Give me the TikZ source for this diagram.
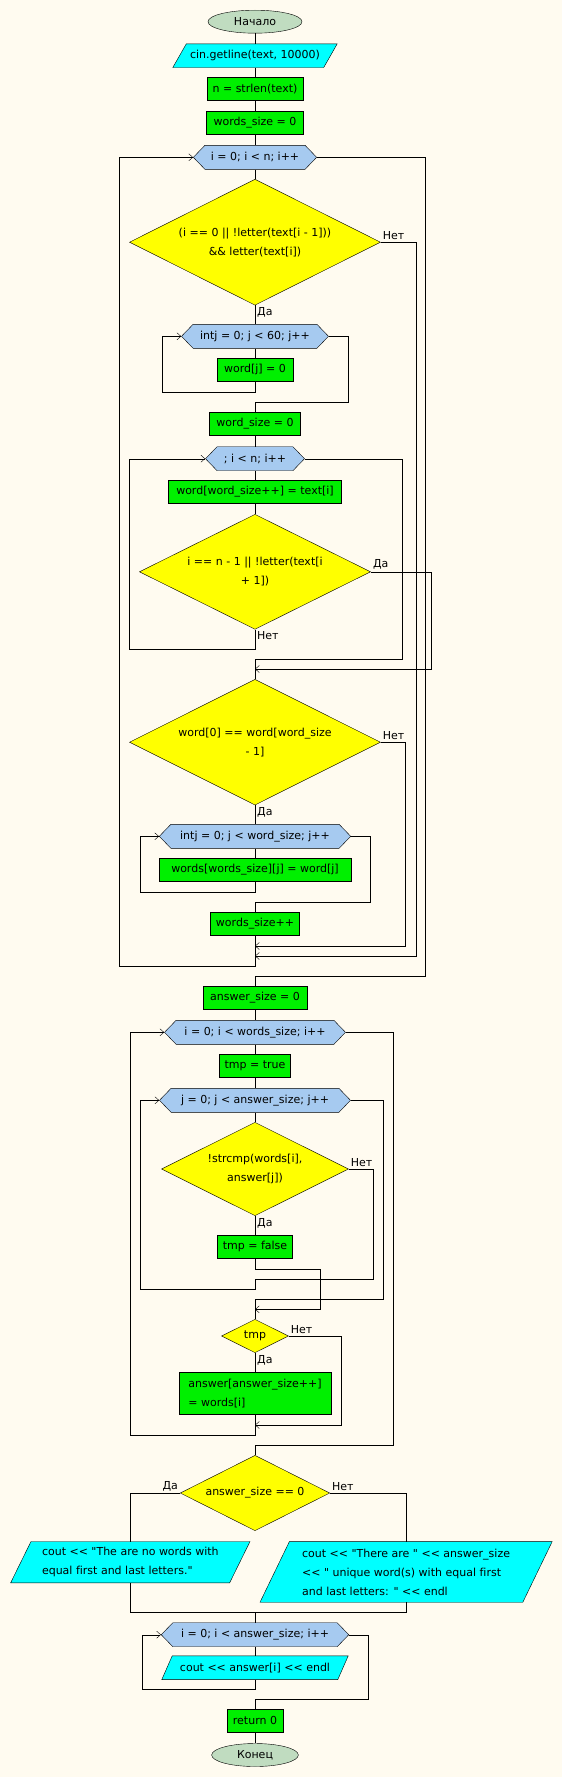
\documentclass[tikz,border=0pt]{standalone}
\usepackage{fontspec}
\setmainfont{DejaVu Sans}[Ligatures={TeXOff,NoCommon}]
\usetikzlibrary{arrows.meta, shapes.geometric, shapes.symbols}
\definecolor{paper}{HTML}{FFFBF0}
\definecolor{termfill}{HTML}{C0DCC0}
\definecolor{procfill}{HTML}{00F000}
\definecolor{loopfill}{HTML}{A6CAF0}
\definecolor{iofill}{HTML}{00FFFF}
\definecolor{condfill}{HTML}{FFFF00}
\pgfdeclarelayer{paperlayer}
\pgfdeclarelayer{iolayer}
\pgfsetlayers{paperlayer,iolayer,main}

\begin{document}
\begin{tikzpicture}[x=1pt, y=-1pt, line width=1pt,
    font=\fontsize{11}{19}\selectfont,
    term/.style={ellipse, draw, fill=termfill, inner sep=0pt, minimum height=23pt},
    proc/.style={rectangle, draw, fill=procfill, inner sep=0pt, minimum height=23pt},
    io/.style={rectangle, inner sep=0pt, align=left},
    loopbox/.style={signal, signal to=east and west, signal pointer angle=92,
      draw, fill=loopfill, inner sep=0pt, minimum height=24pt},
    cond/.style={diamond, aspect=2, draw, fill=condfill, inner sep=0pt, align=center},
    lbl/.style={inner sep=2pt},
    closeloop/.style={-{Straight Barb[length=4pt, width=7pt]}}]
    \useasboundingbox (0,0) rectangle (562,1777);
    \begin{pgfonlayer}{paperlayer}
        \fill[paper] (0,0) rectangle (562,1777);
    \end{pgfonlayer}

    % first part: collect the words
    \node[term, minimum width=94pt] (start) at (255,21.7) {Начало};
    \node[io, minimum width=164pt, minimum height=23.3pt] (getline) at (255,55.7) {cin.getline(text, 10000)};
    \node[proc, minimum width=96.4pt] (strlen) at (255,88.8) {n = strlen(text)};
    \node[proc, minimum width=97pt] (wsz0) at (255,122.8) {words\_size = 0};
    \node[loopbox, minimum width=123.3pt] (loopI) at (255,157.3) {i = 0; i < n; i++};
    \node[cond, minimum width=251pt, minimum height=126pt] (cond1) at (255,242.2)
        {(i == 0 || !letter(text[i - 1]))\\\&\& letter(text[i])};
    \node[loopbox, minimum width=147pt] (loopJ1) at (255,336.3) {intj = 0; j < 60; j++};
    \node[proc, minimum width=76.3pt] (wordj) at (255,369.8) {word[j] = 0};
    \node[proc, minimum width=91pt] (wsz) at (255,423.8) {word\_size = 0};
    \node[loopbox, minimum width=99pt] (loopI2) at (255,458.7) {; i < n; i++};
    \node[proc, minimum width=172.7pt] (wordcp) at (255,492) {word[word\_size++] = text[i]};
    \node[cond, minimum width=231.2pt, minimum height=115pt] (cond2) at (255,571.8)
        {i == n - 1 || !letter(text[i\\+ 1])};
    \node[cond, minimum width=251pt, minimum height=125.7pt] (cond3) at (255,742.2)
        {word[0] == word[word\_size\\- 1]};
    \node[loopbox, minimum width=191.4pt] (loopJ2) at (255,836.3) {intj = 0; j < word\_size; j++};
    \node[proc, minimum width=192pt] (wordsj) at (255,870) {words[words\_size][j] = word[j]};
    \node[proc, minimum width=89pt] (wsinc) at (255,923.8) {words\_size++};

    % second part: keep the unique words
    \node[proc, minimum width=104.3pt] (ans0) at (255,998) {answer\_size = 0};
    \node[loopbox, minimum width=181pt] (loopK) at (255,1032.3) {i = 0; i < words\_size; i++};
    \node[proc, minimum width=71pt] (tmpT) at (255,1065.8) {tmp = true};
    \node[loopbox, minimum width=191pt] (loopL) at (255,1100.3) {j = 0; j < answer\_size; j++};
    \node[cond, minimum width=187pt, minimum height=93.4pt] (cond4) at (255,1169)
        {!strcmp(words[i],\\answer[j])};
    \node[proc, minimum width=75.3pt] (tmpF) at (255,1246.8) {tmp = false};
    \node[cond, minimum width=67pt, minimum height=33.4pt] (cond5) at (255,1336) {tmp};
    \node[proc, minimum width=152.3pt, minimum height=42pt, align=left] (ansadd) at (255,1393.3)
        {answer[answer\_size++]\\= words[i]};

    % output
    \node[cond, minimum width=149.5pt, minimum height=75.4pt] (cond6) at (255,1493) {answer\_size == 0};
    \node[io, minimum width=239pt, minimum height=41pt] (outNo) at (130.3,1562.2)
        {cout << "The are no words with\\equal first and last letters."};
    \node[io, minimum width=291.8pt, minimum height=60.3pt] (outYes) at (406.1,1571.9)
        {cout << "There are " << answer\_size\\<< " unique word(s) with equal first\\and last letters: " << endl};
    \node[loopbox, minimum width=187.5pt] (loopP) at (255,1634.7) {i = 0; i < answer\_size; i++};
    \node[io, minimum width=186pt, minimum height=23.3pt] (outAns) at (255,1667.7) {cout << answer[i] << endl};
    \node[proc, minimum width=55.6pt] (ret) at (255,1720.8) {return 0};
    \node[term, minimum width=86.7pt] (stop) at (255,1755) {Конец};

    \begin{pgfonlayer}{iolayer}
        \foreach \n/\s in {getline/13.5, outNo/20.4, outYes/29.4, outAns/10.4}
            \draw[fill=iofill] ([xshift=\s pt]\n.north west) -- (\n.north east)
                -- ([xshift=-\s pt]\n.south east) -- (\n.south west) -- cycle;
    \end{pgfonlayer}

    % labels of the branches
    \node[lbl, anchor=south west] (c1no) at (cond1.east) {Нет};
    \node[lbl, anchor=north west] (c1yes) at (cond1.south) {Да};
    \node[lbl, anchor=south west] (c2yes) at (cond2.east) {Да};
    \node[lbl, anchor=north west] (c2no) at (cond2.south) {Нет};
    \node[lbl, anchor=south west] (c3no) at (cond3.east) {Нет};
    \node[lbl, anchor=north west] (c3yes) at (cond3.south) {Да};
    \node[lbl, anchor=south west] (c4no) at (cond4.east) {Нет};
    \node[lbl, anchor=north west] (c4yes) at (cond4.south) {Да};
    \node[lbl, anchor=south west] (c5no) at (cond5.east) {Нет};
    \node[lbl, anchor=north west] (c5yes) at (cond5.south) {Да};
    \node[lbl, anchor=south east] (c6yes) at (cond6.west) {Да};
    \node[lbl, anchor=south west] (c6no) at (cond6.east) {Нет};

    % straight links
    \foreach \a/\b in {start/getline, getline/strlen, strlen/wsz0, wsz0/loopI, loopI/cond1,
        cond1/loopJ1, loopJ1/wordj, wsz/loopI2, loopI2/wordcp, wordcp/cond2, cond3/loopJ2,
        loopJ2/wordsj, ans0/loopK, loopK/tmpT, tmpT/loopL, loopL/cond4, cond4/tmpF,
        cond5/ansadd, loopP/outAns, ret/stop}
        \draw (\a.south) -- (\b.north);

    \coordinate (j1) at (255,659);
    \coordinate (j2) at (255,669);
    \coordinate (j3) at (255,946);
    \coordinate (j4) at (255,956);
    \coordinate (j5) at (255,1309.3);
    \coordinate (j6) at (255,1425);
    \coordinate (j7) at (255,1612.3);

    % loops and joins
    \draw[closeloop] (wordj.south) -- (255,392.3) -| (162.4,336.3) -- (loopJ1.west);
    \draw (loopJ1.east) -| (348.4,401.7) -| (wsz.north);
    \draw[closeloop] (cond2.south) -- (255,649) -| (129.4,458.7) -- (loopI2.west);
    \draw (loopI2.east) -| (402.2,659) -- (j1);
    \draw[closeloop] (cond2.east) -| (431.2,669) -- (j2);
    \draw (j1) -- (cond3.north);
    \draw[closeloop] (wordsj.south) -- (255,892.3) -| (140.5,836.3) -- (loopJ2.west);
    \draw (loopJ2.east) -| (370.2,902.3) -| (wsinc.north);
    \draw[closeloop] (cond3.east) -| (405.4,946) -- (j3);
    \draw[closeloop] (cond1.east) -| (415.8,956) -- (j4);
    \draw[closeloop] (wsinc.south) -- (255,966) -| (119.4,157.3) -- (loopI.west);
    \draw (loopI.east) -| (425.4,976) -| (ans0.north);
    \draw[closeloop] (tmpF.south) -- (255,1269.3) -| (320,1309.3) -- (j5);
    \draw[closeloop] (cond4.east) -| (373.5,1279.3) -- (255,1279.3) -- (255,1289.3)
        -| (140.5,1100.3) -- (loopL.west);
    \draw (loopL.east) -| (383.5,1299.3) -| (cond5.north);
    \draw[closeloop] (cond5.east) -| (341.2,1425) -- (j6);
    \draw[closeloop] (ansadd.south) -- (255,1435) -| (130.5,1032.3) -- (loopK.west);
    \draw (loopK.east) -| (393.5,1445) -| (cond6.north);
    \draw (cond6.west) -| (outNo.north);
    \draw (cond6.east) -| (outYes.north);
    \draw (outNo.south) |- (j7) -| (outYes.south);
    \draw (j7) -- (loopP.north);
    \draw[closeloop] (outAns.south) -- (255,1689.3) -| (142.3,1634.7) -- (loopP.west);
    \draw (loopP.east) -| (368.5,1699.3) -| (ret.north);
\end{tikzpicture}
\end{document}
